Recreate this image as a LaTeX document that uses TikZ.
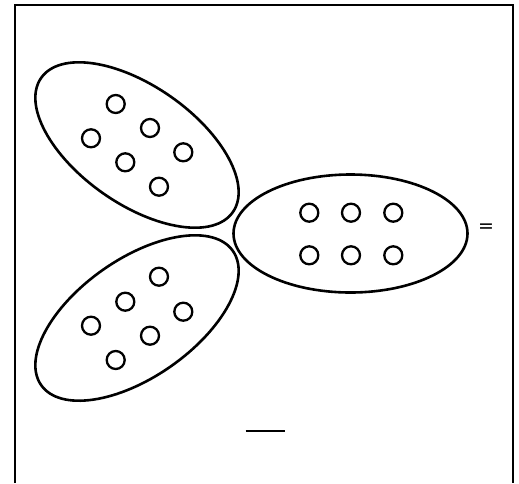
\documentclass[tikz,border=0pt]{standalone}
\usepackage{fontspec}
\setmainfont{DejaVu Sans}
\usetikzlibrary{shapes.geometric}

\begin{document}
\begin{tikzpicture}[x=1pt, y=-1pt,
  group/.style={draw, ellipse, line width=2.6pt, minimum width=234pt,
                minimum height=118pt, inner sep=0pt},
  dot/.style={draw, circle, line width=2.3pt, minimum size=18pt, inner sep=0pt}
]
  \useasboundingbox (0,0) rectangle (519,483);
  \draw[line width=2pt] (15,483) -- (15,5) -- (513,5) -- (513,483);

  \node[group, rotate=-35] (upper) at (137,145) {};
  \node[group, rotate=35]  (lower) at (137,318) {};
  \node[group]             (sum)   at (350.5,233.5) {};

  \foreach \p [count=\i] in {(115.7,104),(150,128),(91,138.3),
                             (183.3,152.3),(125.3,162.3),(159,186.7)}
    \node[dot] (u\i) at \p {};
  \foreach \p [count=\i] in {(159,276.7),(125.3,301.7),(183.3,311.7),
                             (91,325.7),(150,335.7),(115.7,360)}
    \node[dot] (l\i) at \p {};
  \foreach \x [count=\i] in {309.3,351,393.3} {
    \node[dot] (s\i) at (\x,212.7) {};
    \node[dot] (t\i) at (\x,255.3) {};
  }

  \node[font=\fontsize{19}{19}\selectfont] (eq) at (486,228) {=};

  \coordinate (blankL) at (245.5,431);
  \coordinate (blankR) at (285,431);
  \draw[line width=2.6pt] (blankL) -- (blankR);
\end{tikzpicture}
\end{document}
